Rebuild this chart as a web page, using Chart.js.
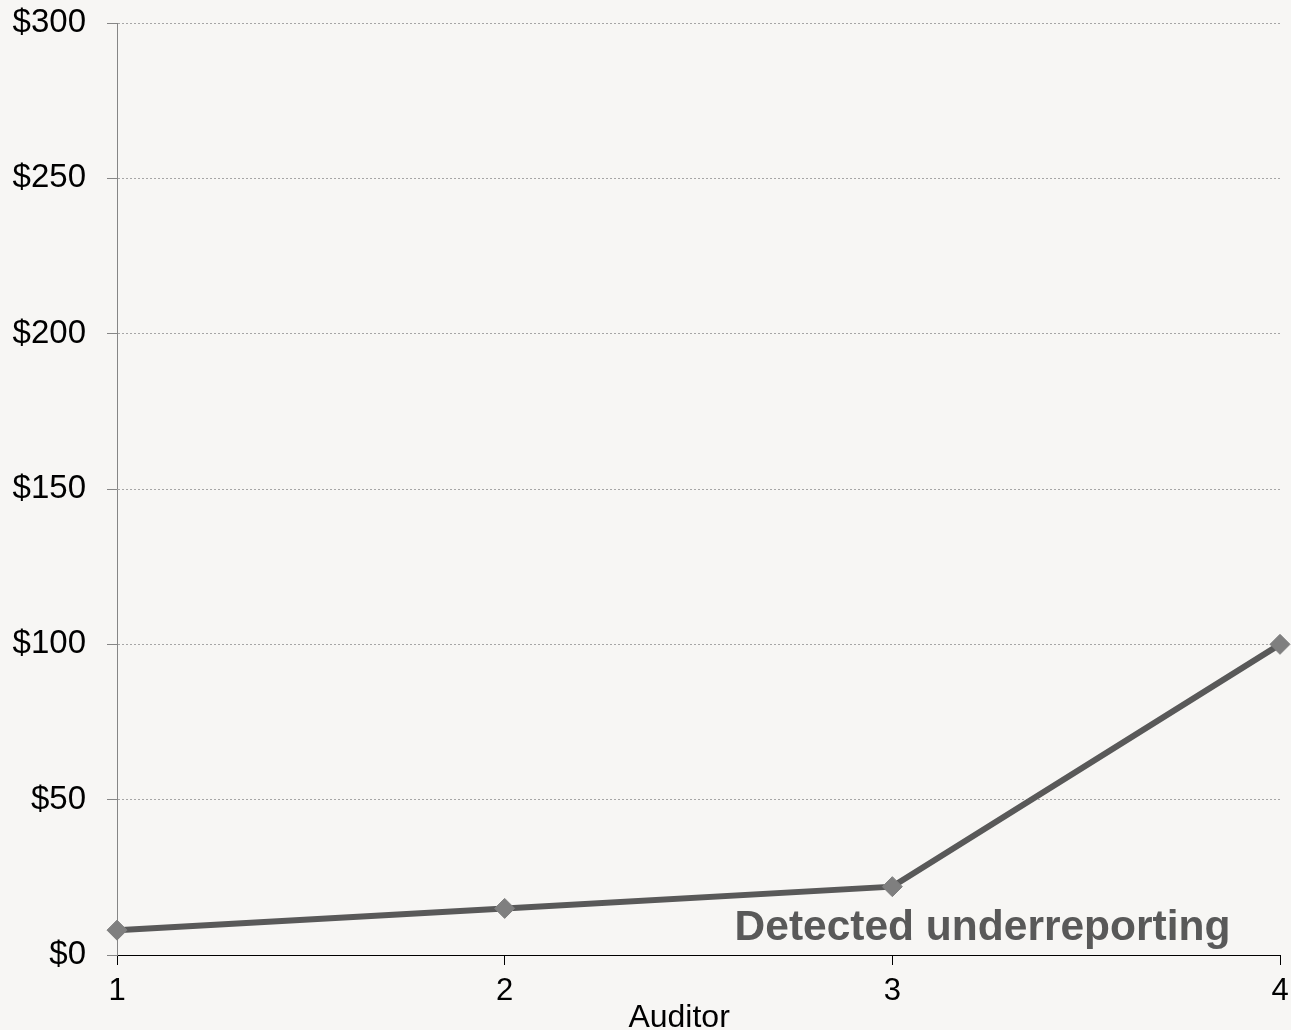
<!DOCTYPE html>
<html>
<head>
<meta charset="utf-8">
<script src="https://cdn.jsdelivr.net/npm/chart.js@4.4.0/dist/chart.umd.min.js"></script>
<style>
    html, body { margin: 0; padding: 0; background: #f7f6f4; }
    canvas { display: block; }
</style>
</head>
<body>
<canvas id="chart" width="1291" height="1030"></canvas>
<script>
const auditors = ['1', '2', '3', '4'];
const underreporting = [8, 15, 22, 100];
const yTicks = [0, 50, 100, 150, 200, 250, 300];
const xTitle = 'Auditor';
const xTitleAt = 1.45; // auditor index where the axis title is centred
const seriesLabel = 'Detected underreporting';
const labelAt = [1.593, 4.8]; // auditor index, dollars (baseline of text)

const fontFamily = '"Liberation Sans", Arial, sans-serif';

const textPlugin = {
    id: 'chartText',
    afterDatasetsDraw(chart) {
        const { ctx, scales: { x, y } } = chart;
        ctx.save();
        ctx.font = `bold 42.5px ${fontFamily}`;
        ctx.fillStyle = '#595959';
        ctx.textAlign = 'left';
        ctx.textBaseline = 'alphabetic';
        ctx.fillText(seriesLabel, x.getPixelForValue(labelAt[0]), y.getPixelForValue(labelAt[1]));

        // axis title sits a little left of centre in the original
        ctx.font = `32px ${fontFamily}`;
        ctx.fillStyle = '#000';
        ctx.textAlign = 'center';
        ctx.fillText(xTitle, x.getPixelForValue(xTitleAt), x.bottom - 3);
        ctx.restore();
    }
};

const ctx = document.getElementById('chart').getContext('2d');
new Chart(ctx, {
    type: 'line',
    data: {
        labels: auditors,
        datasets: [{
            label: seriesLabel,
            data: underreporting,
            borderColor: '#595959',
            borderWidth: 6,
            tension: 0,
            pointStyle: 'rectRot',
            pointRadius: 10,
            pointBorderWidth: 1,
            pointBackgroundColor: '#7f7f7f',
            pointBorderColor: '#7f7f7f',
        }]
    },
    options: {
        responsive: false,
        animation: false,
        devicePixelRatio: 1,
        layout: { padding: { top: 23, right: 10, bottom: 0, left: 0 } },
        plugins: {
            legend: { display: false },
            tooltip: { enabled: false },
        },
        scales: {
            x: {
                offset: false,
                afterFit: (scale) => {
                    scale.height = 75;
                    scale.paddingLeft = 0;
                    scale.paddingRight = 0;
                },
                grid: {
                    drawOnChartArea: false,
                    drawTicks: true,
                    tickLength: 10,
                    tickColor: '#000',
                },
                border: { color: '#000', width: 1 },
                ticks: {
                    color: '#000',
                    padding: 8,
                    maxRotation: 0,
                    font: { family: fontFamily, size: 31 },
                },
                title: { display: false },
            },
            y: {
                min: 0,
                max: 300,
                afterFit: (scale) => {
                    scale.width = 117;
                    scale.paddingTop = 0;
                    scale.paddingBottom = 0;
                },
                afterBuildTicks: (scale) => { scale.ticks = yTicks.map(v => ({ value: v })); },
                grid: {
                    color: '#a6a6a6',
                    lineWidth: 1,
                    tickLength: 10,
                    tickColor: '#868686',
                    tickBorderDash: [],
                },
                border: { color: '#868686', width: 1, dash: [2, 2] },
                ticks: {
                    color: '#000',
                    padding: 21,
                    font: { family: fontFamily, size: 33 },
                    callback: (value) => '$' + value,
                },
            }
        }
    },
    plugins: [textPlugin]
});
</script>
</body>
</html>
